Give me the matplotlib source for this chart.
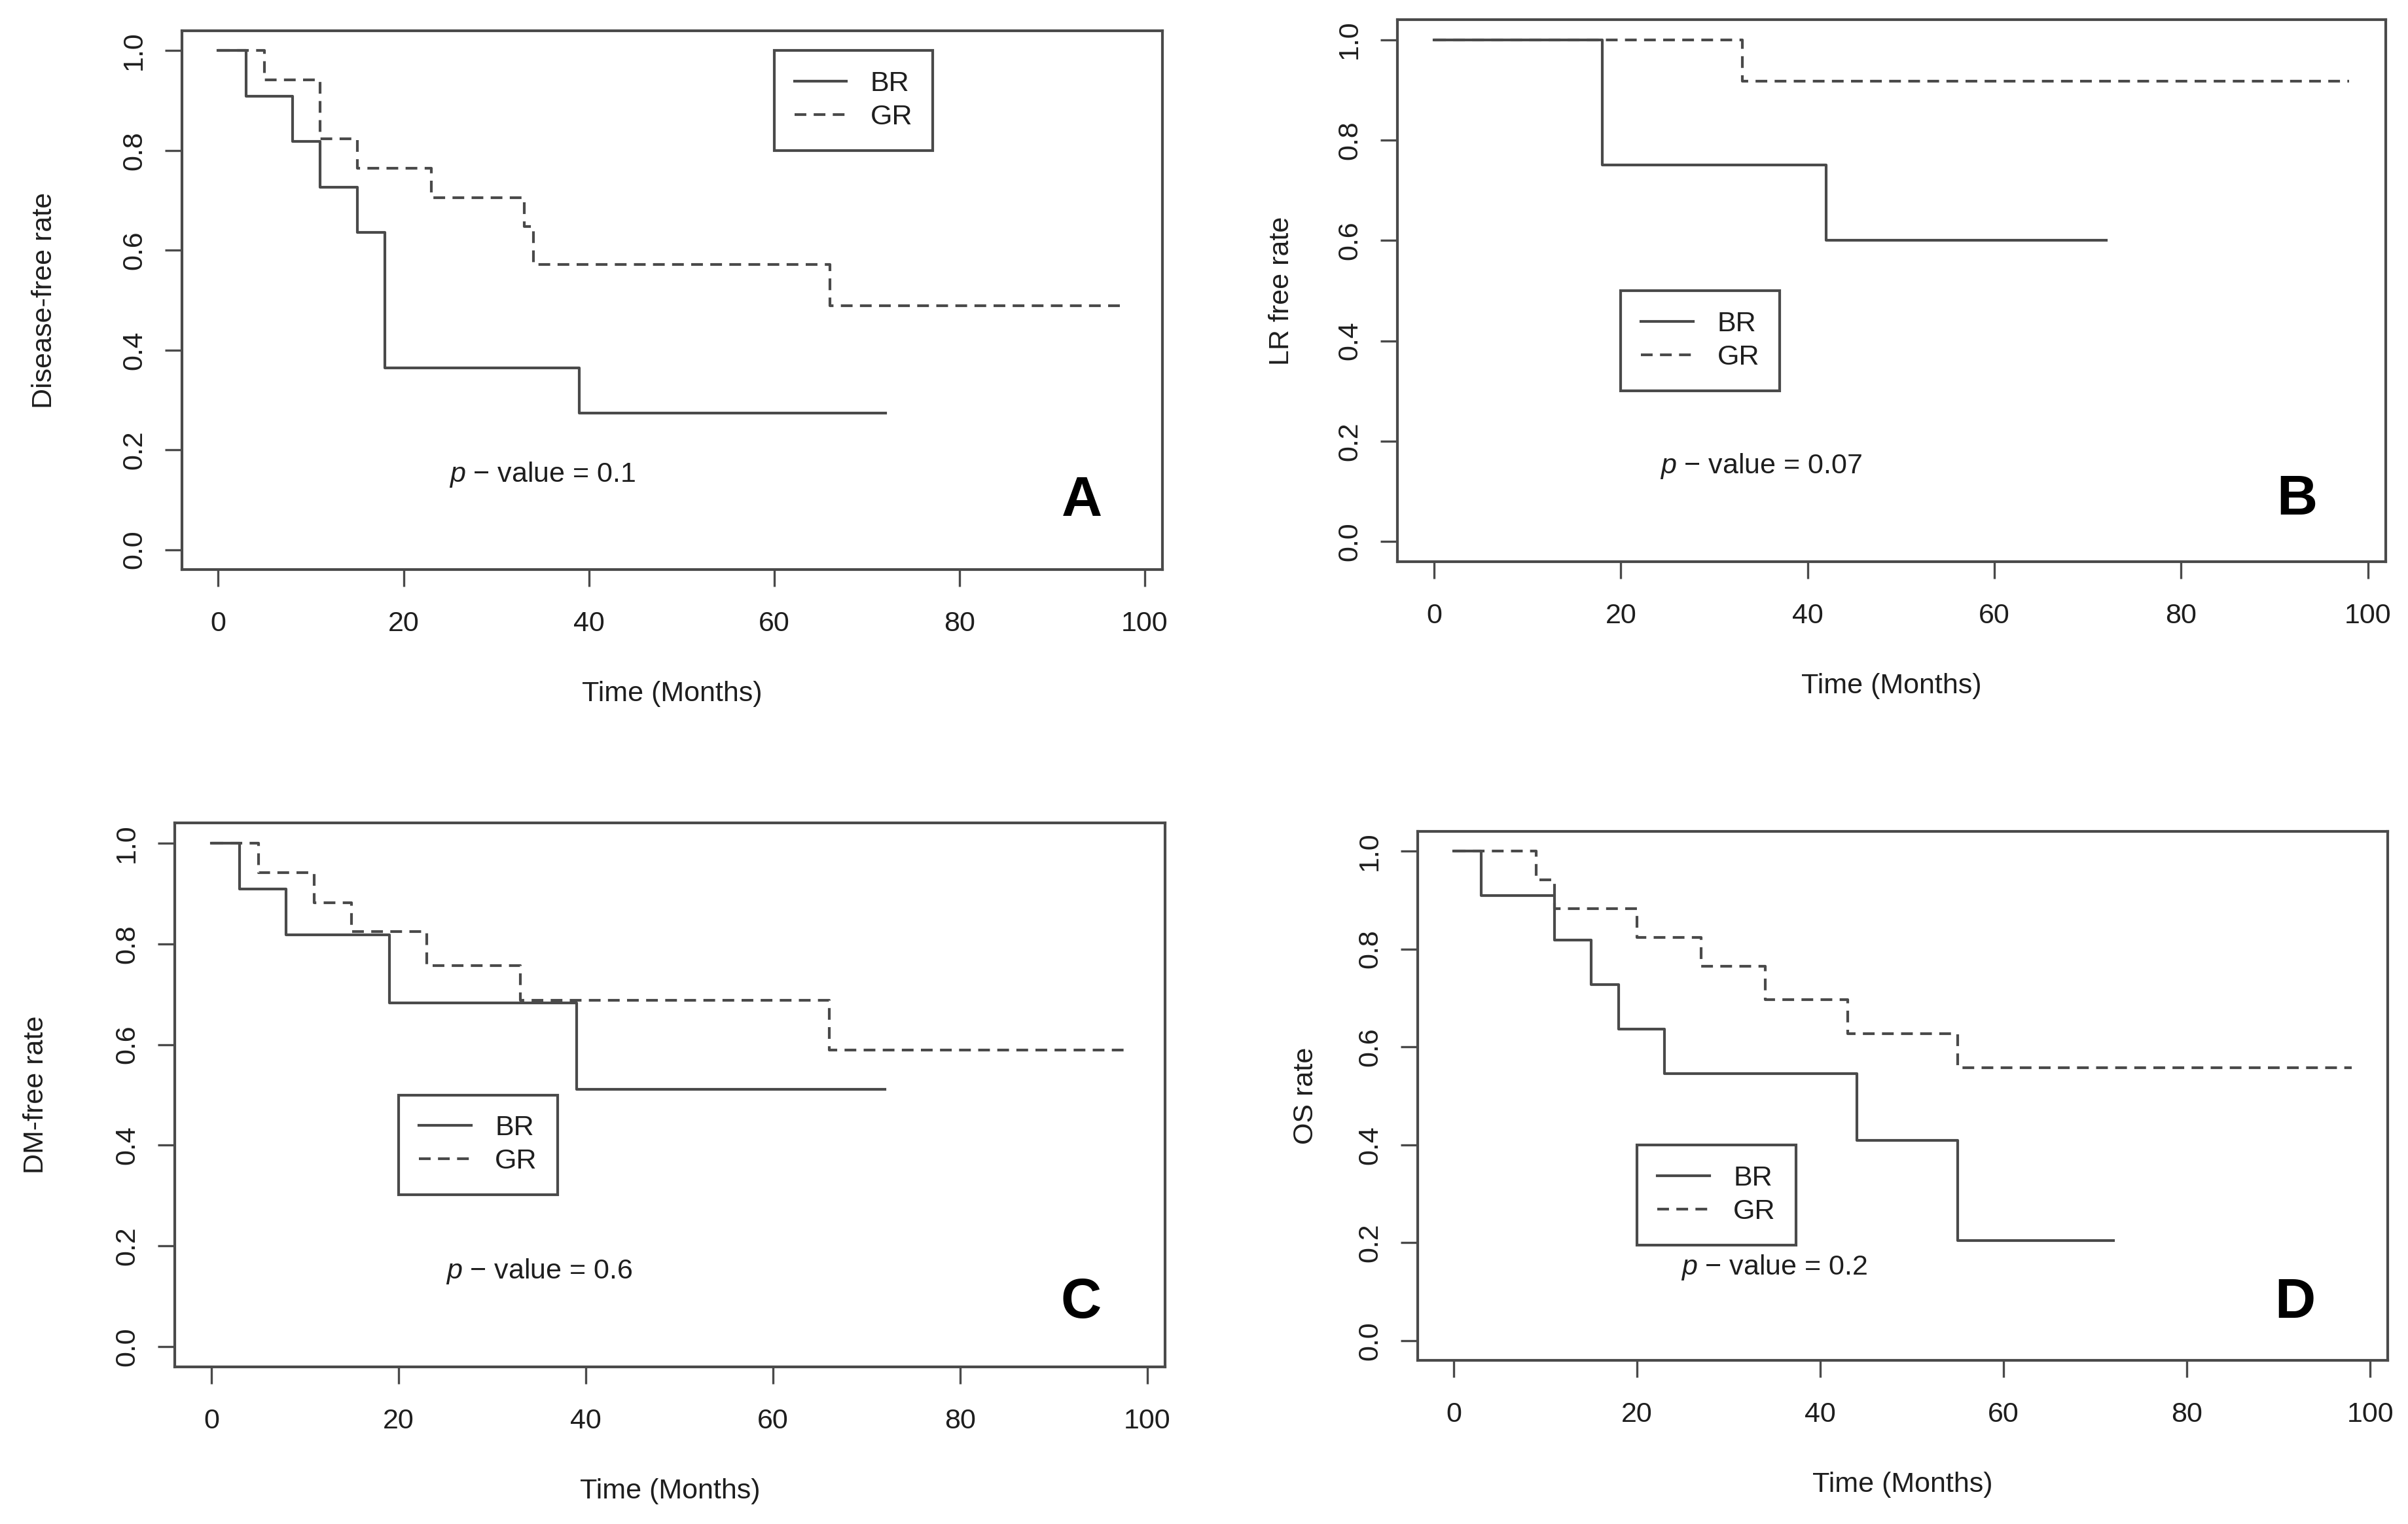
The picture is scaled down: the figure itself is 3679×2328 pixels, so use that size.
import matplotlib
matplotlib.use('Agg')
import matplotlib.pyplot as plt

plt.rcParams['font.family'] = ['Liberation Sans', 'DejaVu Sans']
plt.rcParams['mathtext.fontset'] = 'custom'
plt.rcParams['mathtext.rm'] = 'Liberation Sans'
plt.rcParams['mathtext.it'] = 'Liberation Sans:italic'

# ====== data (Kaplan-Meier steps) ======
# A: disease-free
a_br_t = [0, 3, 8, 11, 15, 18, 39, 72]
a_br_s = [1.0, 0.909, 0.818, 0.727, 0.636, 0.364, 0.273, 0.273]
a_gr_t = [0, 5, 11, 15, 23, 33, 34, 66, 98]
a_gr_s = [1.0, 0.941, 0.824, 0.765, 0.706, 0.647, 0.571, 0.489, 0.489]
# B: LR free
b_br_t = [0, 18, 42, 72]
b_br_s = [1.0, 0.75, 0.60, 0.60]
b_gr_t = [0, 33, 98]
b_gr_s = [1.0, 0.917, 0.917]
# C: DM-free
c_br_t = [0, 3, 8, 19, 39, 72]
c_br_s = [1.0, 0.909, 0.818, 0.682, 0.511, 0.511]
c_gr_t = [0, 5, 11, 15, 23, 33, 66, 98]
c_gr_s = [1.0, 0.941, 0.882, 0.824, 0.757, 0.688, 0.589, 0.589]
# D: OS
d_br_t = [0, 3, 11, 15, 18, 23, 44, 55, 72]
d_br_s = [1.0, 0.909, 0.818, 0.727, 0.636, 0.545, 0.409, 0.205, 0.205]
d_gr_t = [0, 9, 11, 20, 27, 34, 43, 55, 98]
d_gr_s = [1.0, 0.941, 0.882, 0.824, 0.765, 0.696, 0.627, 0.557, 0.557]

ylabels = ['Disease-free rate', 'LR free rate', 'DM-free rate', 'OS rate']
pvalues = ['0.1', '0.07', '0.6', '0.2']
letters = ['A', 'B', 'C', 'D']
groups = ['BR', 'GR']
legend_xy = [(60, 1.0), (20, 0.5), (20, 0.5), (20, 0.4)]
xticks = [0, 20, 40, 60, 80, 100]
yticks = [0.0, 0.2, 0.4, 0.6, 0.8, 1.0]

panels = [
    (a_br_t, a_br_s, a_gr_t, a_gr_s),
    (b_br_t, b_br_s, b_gr_t, b_gr_s),
    (c_br_t, c_br_s, c_gr_t, c_gr_s),
    (d_br_t, d_br_s, d_gr_t, d_gr_s),
]

# ====== layout (pixels of a 3680x2328 canvas) ======
W, H = 3680, 2328
boxes = [(278, 47, 1776, 870), (2135, 30, 3645, 858),
         (267, 1257, 1780, 2088), (2166, 1270, 3648, 2078)]
ylab_px = [88, 1978, 75, 2015]        # right edge of the rotated y label
xlab_gap = 170                        # box bottom -> top of x label
letter_pos = [(1653, 766), (3509, 764), (1652, 1991), (3506, 1991)]

LINE = '#4a4a4a'
TXT = '#1e1e1e'
FS = 15.5

fig = plt.figure(figsize=(W / 200, H / 200), dpi=200)

for i, (br_t, br_s, gr_t, gr_s) in enumerate(panels):
    x0, y0, x1, y1 = boxes[i]
    ax = fig.add_axes([x0 / W, 1 - y1 / H, (x1 - x0) / W, (y1 - y0) / H])
    ax.step(br_t, br_s, where='post', color=LINE, lw=1.5, label=groups[0])
    ax.step(gr_t, gr_s, where='post', color=LINE, lw=1.5,
            linestyle=(0, (4.3, 2.7)), label=groups[1])

    ax.set_xlim(-3.92, 101.92)
    ax.set_ylim(-0.04, 1.04)
    ax.set_xticks(xticks, labels=[str(v) for v in xticks])
    ax.set_yticks(yticks, labels=['%.1f' % v for v in yticks],
                  rotation=90, va='center')
    ax.tick_params(direction='out', length=9.5, width=1.2,
                   labelsize=FS, color=LINE, labelcolor=TXT)
    ax.tick_params(axis='x', pad=13)
    ax.tick_params(axis='y', pad=9.5)
    for sp in ax.spines.values():
        sp.set_color(LINE)
        sp.set_linewidth(1.5)

    ax.set_xlabel('Time (Months)', fontsize=FS, color=TXT)
    ax.set_ylabel(ylabels[i], fontsize=FS, color=TXT)
    ax.xaxis.set_label_coords(0.5, -xlab_gap / (y1 - y0))
    ax.yaxis.set_label_coords((ylab_px[i] - x0) / (x1 - x0), 0.5)

    ax.text(35, 0.15, '$p$ \u2212 value = ' + pvalues[i], ha='center',
            va='center', fontsize=FS, color=TXT)

    leg = ax.legend(loc='upper left', bbox_to_anchor=legend_xy[i],
                    bbox_transform=ax.transData, borderaxespad=0,
                    fontsize=FS, frameon=True, fancybox=False,
                    borderpad=0.72, labelspacing=0.25, handlelength=1.85,
                    handletextpad=0.85, labelcolor=TXT)
    leg.get_frame().set_edgecolor(LINE)
    leg.get_frame().set_linewidth(1.5)
    leg.get_frame().set_alpha(1)

    lx, ly = letter_pos[i]
    fig.text(lx / W, 1 - ly / H, letters[i], ha='center', va='center',
             fontsize=31, fontweight='bold', color='black')

out = 'out.png'
fig.savefig(out, dpi=200)
plt.close(fig)
print('saved', out)
